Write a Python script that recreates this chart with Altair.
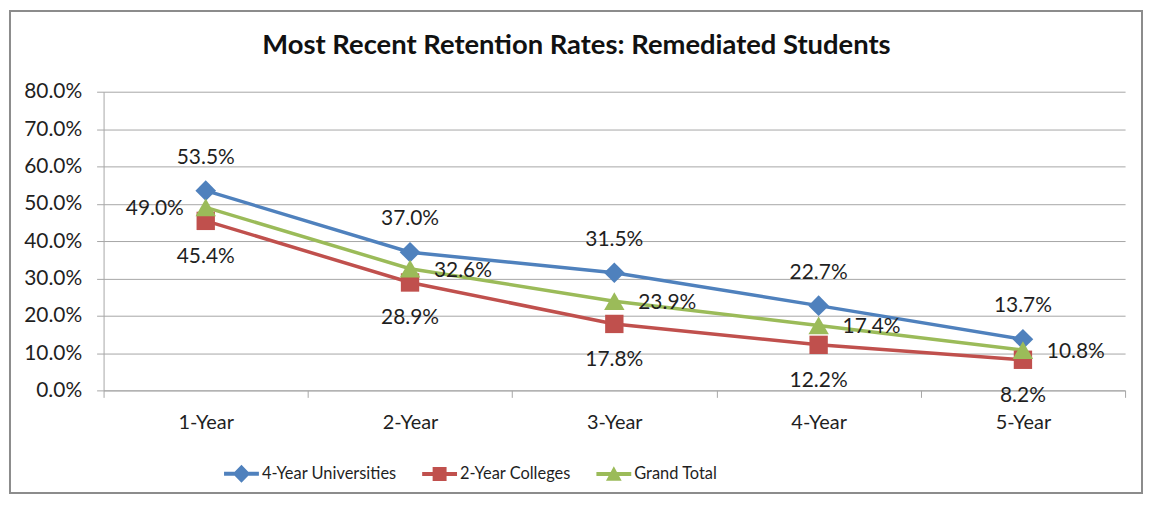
import altair as alt
import pandas as pd

periods = ["1-Year", "2-Year", "3-Year", "4-Year", "5-Year"]
univ = [53.5, 37.0, 31.5, 22.7, 13.7]
colleges = [45.4, 28.9, 17.8, 12.2, 8.2]
total = [49.0, 32.6, 23.9, 17.4, 10.8]
series_names = ["4-Year Universities", "2-Year Colleges", "Grand Total"]
colors = ["#4F81BD", "#C0504D", "#9BBB59"]
shapes = ["diamond", "square", "triangle-up"]
sizes = [430, 340, 420]

rows = []
for s_i, (name, vals) in enumerate(zip(series_names, [univ, colleges, total])):
    for i, (p, v) in enumerate(zip(periods, vals)):
        rows.append({"period": p, "series": name, "value": v, "idx": i})
df = pd.DataFrame(rows)

FONT = "Lato"
TXT = "#1f1f1f"
GRID = "#a6a6a6"

# legend symbol paths: line through marker
p_diamond = "M-1,-0.11L1,-0.11L1,0.11L-1,0.11Z M0,-0.52L0.5,0L0,0.52L-0.5,0Z"
p_square = "M-1,-0.11L1,-0.11L1,0.11L-1,0.11Z M-0.4,-0.4L0.4,-0.4L0.4,0.4L-0.4,0.4Z"
p_tri = "M-1,-0.11L1,-0.11L1,0.11L-1,0.11Z M0,-0.45L0.45,0.38L-0.45,0.38Z"
legend_paths = [p_diamond, p_square, p_tri]

legend = alt.Legend(
    title=None,
    orient="none",
    legendX=121,
    legendY=366,
    direction="horizontal",
    symbolSize=1225,
    symbolStrokeWidth=0,
    symbolOpacity=1,
    labelFont=FONT,
    labelFontSize=16.5,
    labelColor=TXT,
    labelOffset=3,
    columnPadding=25,
    padding=0,
)

color_enc = alt.Color(
    "series:N",
    scale=alt.Scale(domain=series_names, range=colors),
    legend=legend,
)

x_enc = alt.X(
    "period:N",
    sort=periods,
    scale=alt.Scale(type="band", paddingInner=0, paddingOuter=0),
    axis=alt.Axis(
        title=None,
        labelAngle=0,
        tickBand="extent",
        grid=False,
        domainColor=GRID,
        tickColor=GRID,
        tickSize=7,
        labelPadding=15,
        labelFont=FONT,
        labelFontSize=20,
        labelColor=TXT,
    ),
)
y_enc = alt.Y(
    "value:Q",
    scale=alt.Scale(domain=[0, 80], nice=False),
    axis=alt.Axis(
        title=None,
        values=list(range(0, 81, 10)),
        labelExpr="format(datum.value, '.1f') + '%'",
        grid=True,
        gridColor=GRID,
        domainColor=GRID,
        tickColor=GRID,
        tickSize=7,
        labelPadding=15,
        labelFont=FONT,
        labelFontSize=21,
        labelColor=TXT,
    ),
)

base = alt.Chart(df)

lines = base.mark_line(strokeWidth=3.5).encode(x=x_enc, y=y_enc, color=color_enc)

point_layers = []
for name, shp, sz in zip(series_names, shapes, sizes):
    point_layers.append(
        base.transform_filter(f"datum.series === '{name}'")
        .mark_point(filled=True, opacity=1, shape=shp, size=sz)
        .encode(x=x_enc, y=y_enc, color=color_enc)
    )

# legend-only layer (no data rows drawn) carrying the line+marker legend symbols
legend_layer = base.transform_filter("false").mark_point(filled=True, opacity=1).encode(
    x=x_enc,
    y=y_enc,
    color=color_enc,
    shape=alt.Shape("series:N", scale=alt.Scale(domain=series_names, range=legend_paths), legend=legend),
)

lab = base.transform_calculate(label="format(datum.value, '.1f') + '%'")
tstyle = dict(font=FONT, fontSize=21, color=TXT)

t_univ = lab.transform_filter(f"datum.series === '{series_names[0]}'").mark_text(dy=-33, **tstyle).encode(
    x=x_enc, y=y_enc, text="label:N")
t_coll = lab.transform_filter(f"datum.series === '{series_names[1]}'").mark_text(dy=36, **tstyle).encode(
    x=x_enc, y=y_enc, text="label:N")
t_tot0 = lab.transform_filter(f"datum.series === '{series_names[2]}' && datum.idx === 0").mark_text(
    dx=-22, dy=2, align="right", **tstyle).encode(x=x_enc, y=y_enc, text="label:N")
t_tot = lab.transform_filter(f"datum.series === '{series_names[2]}' && datum.idx > 0").mark_text(
    dx=24, dy=2, align="left", **tstyle).encode(x=x_enc, y=y_enc, text="label:N")

border = alt.Chart(pd.DataFrame({"a": [0]})).mark_rect(
    filled=False, stroke="#8c8c8c", strokeWidth=2
).encode(x=alt.value(-94), x2=alt.value(1043), y=alt.value(-81), y2=alt.value(403))

chart = alt.layer(border, lines, *point_layers, legend_layer, t_univ, t_coll, t_tot0, t_tot).properties(
    width=1026,
    height=300,
    padding={"left": 96, "top": 83, "right": 18, "bottom": 105},
    autosize=alt.AutoSizeParams(type="none"),
    title=alt.TitleParams(
        "Most Recent Retention Rates: Remediated Students",
        font=FONT,
        fontSize=27.5,
        fontWeight="bold",
        color="#111111",
        anchor="middle",
        frame="group",
        dx=-38,
        dy=50,
        offset=0,
    ),
).configure_view(stroke=None)

chart.save("out.html", embed_options={"renderer": "svg", "actions": False})
